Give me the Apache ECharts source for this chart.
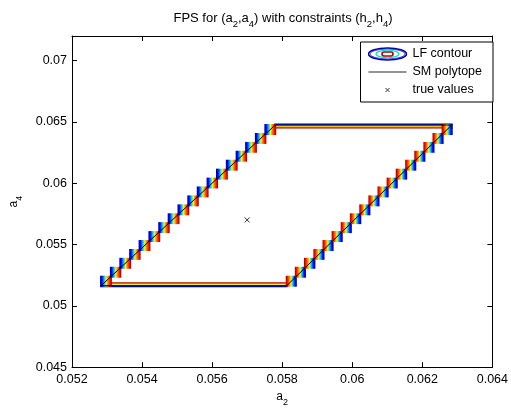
<!DOCTYPE html>
<html><head><meta charset="utf-8">
<script src="https://cdn.jsdelivr.net/npm/echarts@6/dist/echarts.min.js"></script>
<style>html,body{margin:0;padding:0;background:#fff}#c{width:511px;height:412px}</style>
</head><body><div id="c"></div>
<script>
// ---- data ----
const xTicks = [0.052, 0.054, 0.056, 0.058, 0.06, 0.062, 0.064];
const yTicks = [0.045, 0.05, 0.055, 0.06, 0.065, 0.07];
const xTickLabels = ['0.052', '0.054', '0.056', '0.058', '0.06', '0.062', '0.064'];
const yTickLabels = ['0.045', '0.05', '0.055', '0.06', '0.065', '0.07'];

// SM polytope (closed parallelogram)
const polytopeA2 = [0.05283, 0.05813, 0.06284, 0.05780, 0.05283];
const polytopeA4 = [0.05164, 0.05164, 0.06474, 0.06474, 0.05164];

// true values
const trueA2 = [0.057];
const trueA4 = [0.057];

// LF contour staircase (grid steps along the slanted edges)
const stepA4 = [0.05164, 0.05237, 0.05310, 0.05383, 0.05455, 0.05528, 0.05601, 0.05674, 0.05746, 0.05819,
                0.05892, 0.05965, 0.06037, 0.06110, 0.06183, 0.06256, 0.06328, 0.06401, 0.06474];
const leftStepA2 = [0.05283, 0.05311, 0.05338, 0.05366, 0.05393, 0.05421, 0.05449, 0.05476, 0.05504, 0.05532,
                    0.05559, 0.05587, 0.05614, 0.05642, 0.05670, 0.05697, 0.05725, 0.05752, 0.05780];
const rightStepA2 = [0.05813, 0.05839, 0.05865, 0.05892, 0.05918, 0.05944, 0.05970, 0.05996, 0.06023, 0.06049,
                     0.06075, 0.06101, 0.06127, 0.06154, 0.06180, 0.06206, 0.06232, 0.06258, 0.06284];

const legendNames = ['LF contour', 'SM polytope', 'true values'];

// ---- build ----
const jetStops = [
  {offset: 0, color: '#00008f'}, {offset: 0.16, color: '#0000ff'}, {offset: 0.36, color: '#00c8ff'},
  {offset: 0.52, color: '#e8ff20'}, {offset: 0.68, color: '#ff8000'}, {offset: 0.84, color: '#ff1000'},
  {offset: 1, color: '#8f0000'}
];

const boxData = [];
for (let k = 0; k < stepA4.length - 1; k++) {
  boxData.push([leftStepA2[k], stepA4[k], leftStepA2[k + 1], stepA4[k + 1], 0]);
  boxData.push([rightStepA2[k], stepA4[k], rightStepA2[k + 1], stepA4[k + 1], 1]);
}
const bandData = [
  [polytopeA2[0], polytopeA2[1], polytopeA4[0], 1],
  [polytopeA2[3], polytopeA2[2], polytopeA4[3], 0]
];

function stairBox(params, api) {
  const a = api.coord([api.value(0), api.value(1)]);
  const b = api.coord([api.value(2), api.value(3)]);
  const side = api.value(4);
  const x = Math.min(a[0], b[0]) - 1, y = Math.min(a[1], b[1]) - 1;
  const w = Math.abs(b[0] - a[0]) + 2, h = Math.abs(b[1] - a[1]) + 2;
  // outside (low level) is blue: left of the left edge, right of the right edge
  const g = side === 0 ? new echarts.graphic.LinearGradient(0, 0, 1, 0, jetStops)
                       : new echarts.graphic.LinearGradient(1, 0, 0, 0, jetStops);
  return {type: 'rect', shape: {x: x, y: y, width: w, height: h}, style: {fill: g}};
}
function band(params, api) {
  const a = api.coord([api.value(0), api.value(2)]);
  const b = api.coord([api.value(1), api.value(2)]);
  const side = api.value(3);
  const y0 = side === 0 ? a[1] - 1.5 : a[1] - 3.5;
  const g = side === 0 ? new echarts.graphic.LinearGradient(0, 0, 0, 1, jetStops)
                       : new echarts.graphic.LinearGradient(0, 1, 0, 0, jetStops);
  return {type: 'rect', shape: {x: a[0] - 1, y: y0, width: b[0] - a[0] + 2, height: 5}, style: {fill: g}};
}

function svgIcon(svg) {
  return 'image://data:image/svg+xml;charset=utf-8,' + encodeURIComponent(svg);
}
const iconContour = svgIcon("<svg xmlns='http://www.w3.org/2000/svg' width='40' height='14'>" +
  "<ellipse cx='20' cy='7' rx='19' ry='6' fill='none' stroke='#00008f' stroke-width='1.6'/>" +
  "<ellipse cx='20' cy='7' rx='17.6' ry='5' fill='none' stroke='#2020ff' stroke-width='0.9'/>" +
  "<ellipse cx='20' cy='7' rx='11.5' ry='3.8' fill='none' stroke='#10e0b0' stroke-width='1.2'/>" +
  "<rect x='14.5' y='5' width='11' height='4' rx='2' fill='none' stroke='#b00000' stroke-width='1.6'/></svg>");
const iconLine = svgIcon("<svg xmlns='http://www.w3.org/2000/svg' width='40' height='14'>" +
  "<line x1='1' y1='7' x2='39' y2='7' stroke='#707070' stroke-width='1.6'/></svg>");
const iconCross = svgIcon("<svg xmlns='http://www.w3.org/2000/svg' width='40' height='14'>" +
  "<path d='M18,5 L22,9 M22,5 L18,9' stroke='#000' stroke-width='1'/></svg>");

const FONT = 'Liberation Sans';
const rich = {
  n: {fontFamily: FONT, fontSize: 12, fontWeight: 'normal', lineHeight: 16, color: '#000', verticalAlign: 'top'},
  s: {fontFamily: FONT, fontSize: 9, fontWeight: 'normal', lineHeight: 9, color: '#000', verticalAlign: 'bottom'}
};
const titleRich = {
  n: {fontFamily: FONT, fontSize: 13, fontWeight: 'normal', lineHeight: 17, color: '#000', verticalAlign: 'top'},
  s: {fontFamily: FONT, fontSize: 9.5, fontWeight: 'normal', lineHeight: 9, color: '#000', verticalAlign: 'bottom'}
};

const chart = echarts.init(document.getElementById('c'), null, {renderer: 'canvas'});
const axisCommon = {
  axisLine: {show: true, onZero: false, lineStyle: {color: '#000', width: 1}},
  axisTick: {show: true, inside: true, length: 5, lineStyle: {color: '#000'}},
  splitLine: {show: false}
};
chart.setOption({
  animation: false,
  backgroundColor: '#fff',
  title: {
    text: '{n|FPS for (a}{s|2}{n|,a}{s|4}{n|) with constraints (h}{s|2}{n|,h}{s|4}{n|)}',
    left: 278, top: 7, textAlign: 'center',
    textStyle: {fontWeight: 'normal', rich: titleRich}
  },
  grid: {left: 70, right: 17, top: 36, bottom: 42, containLabel: false},
  legend: {
    orient: 'vertical', right: 18, top: 42,
    itemWidth: 40, itemHeight: 14, itemGap: 4,
    padding: [5, 11, 5, 7],
    borderColor: '#000', borderWidth: 1, backgroundColor: '#fff',
    selectedMode: false,
    textStyle: {fontFamily: FONT, fontSize: 12.5, color: '#000'},
    data: [
      {name: legendNames[0], icon: iconContour},
      {name: legendNames[1], icon: iconLine},
      {name: legendNames[2], icon: iconCross}
    ]
  },
  xAxis: [
    Object.assign({}, axisCommon, {
      type: 'value', min: xTicks[0], max: xTicks[xTicks.length - 1], position: 'bottom',
      name: '{n|a}{s|2}', nameLocation: 'middle', nameGap: 20,
      nameTextStyle: {rich: rich},
      axisTick: Object.assign({}, axisCommon.axisTick, {customValues: xTicks}),
      axisLabel: {customValues: xTicks, margin: 6, fontFamily: FONT, fontSize: 12.5, color: '#000',
                  formatter: v => xTickLabels[xTicks.findIndex(t => Math.abs(t - v) < 1e-9)]}
    }),
    Object.assign({}, axisCommon, {
      type: 'value', min: xTicks[0], max: xTicks[xTicks.length - 1], position: 'top',
      axisTick: Object.assign({}, axisCommon.axisTick, {customValues: xTicks}),
      axisLabel: {show: false}
    })
  ],
  yAxis: [
    Object.assign({}, axisCommon, {
      type: 'value', min: yTicks[0], max: 0.072, position: 'left',
      name: '{n|a}{s|4}', nameLocation: 'middle', nameGap: 48, nameRotate: 90,
      nameTextStyle: {rich: rich},
      axisTick: Object.assign({}, axisCommon.axisTick, {customValues: yTicks}),
      axisLabel: {customValues: yTicks, margin: 5, fontFamily: FONT, fontSize: 12.5, color: '#000',
                  formatter: v => yTickLabels[yTicks.findIndex(t => Math.abs(t - v) < 1e-9)]}
    }),
    Object.assign({}, axisCommon, {
      type: 'value', min: yTicks[0], max: 0.072, position: 'right',
      axisTick: Object.assign({}, axisCommon.axisTick, {customValues: yTicks}),
      axisLabel: {show: false}
    })
  ],
  series: [
    {name: legendNames[0], type: 'custom', renderItem: band, data: bandData, z: 2,
     itemStyle: {color: '#0000ff'}, silent: true},
    {name: legendNames[0], type: 'custom', renderItem: stairBox, data: boxData, z: 2,
     itemStyle: {color: '#0000ff'}, silent: true},
    {name: legendNames[1], type: 'line', data: polytopeA2.map((x, i) => [x, polytopeA4[i]]),
     symbol: 'none', lineStyle: {color: '#000', width: 1}, itemStyle: {color: '#000'}, z: 3, silent: true},
    {name: legendNames[2], type: 'scatter', data: trueA2.map((x, i) => [x, trueA4[i]]),
     symbol: 'path://M0,0L10,10M10,0L0,10', symbolSize: 5,
     itemStyle: {color: 'rgba(0,0,0,0)', borderColor: '#000', borderWidth: 1}, z: 4, silent: true}
  ]
});
</script>
</body></html>
